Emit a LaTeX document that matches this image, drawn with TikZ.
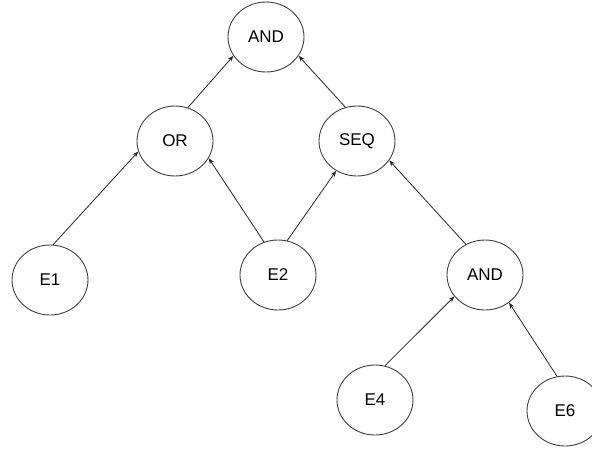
\documentclass[tikz,border=0pt]{standalone}
\usepackage{fontspec}
\setmainfont{Liberation Sans}
\usetikzlibrary{shapes.geometric,arrows.meta}
\begin{document}
\begin{tikzpicture}[x=1pt,y=-1pt,
  ev/.style={ellipse,draw=black!75,line width=0.9pt,minimum width=76pt,minimum height=70pt,inner sep=0pt,font=\fontsize{17}{19}\selectfont},
  arr/.style={draw=black!85,line width=0.8pt,-{Stealth[length=6pt,width=4.5pt]}}]
\useasboundingbox (0,0) rectangle (592,448);
\clip (0,0) rectangle (592,448);
\node[ev] (and1) at (266,37) {AND};
\node[ev] (or) at (175,141) {OR};
\node[ev] (seq) at (357,141) {SEQ};
\node[ev] (e1) at (50,280) {E1};
\node[ev] (e2) at (278,275) {E2};
\node[ev] (and2) at (485,275) {AND};
\node[ev] (e4) at (375,400) {E4};
\node[ev] (e6) at (565,411) {E6};
\draw[arr] (or.69) -- (and1.210);
\draw[arr] (seq.109) -- (and1.330);
\draw[arr] (e1.85) -- (or.196);
\draw[arr] (e2.113) -- (or.333);
\draw[arr] (e2.75) -- (seq.235);
\draw[arr] (and2.122) -- (seq.329);
\draw[arr] (e4.74) -- (and2.215);
\draw[arr] (e6.103) -- (and2.311);
\end{tikzpicture}
\end{document}
